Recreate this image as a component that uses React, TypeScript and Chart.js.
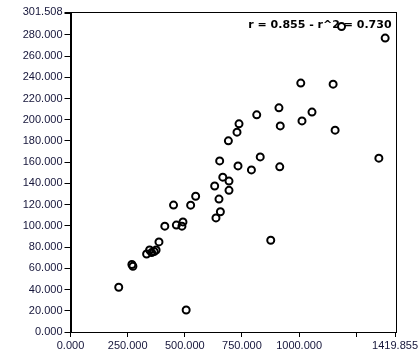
import React, { useEffect, useRef } from "react";
import { Chart, registerables } from "chart.js";

Chart.register(...registerables);

const xValues = [
  211, 268.5, 273, 333, 346, 355, 366, 374.5, 387, 412.6, 450.7, 463, 487.5, 492,
  506, 525.6, 547.5, 630.7, 649.6, 655.7, 636.4, 666.2, 693.4, 693.4, 652.6, 690.7,
  728.4, 737.2, 732.8, 791.5, 830, 814.7, 911.9, 917.6, 915.4, 1012.7, 1056.5,
  1007.4, 1148.9, 1157.6, 1185.7, 1376.6, 1349, 876,
];
const yValues = [
  42.2, 63.6, 61.9, 73.5, 77.3, 74.8, 75.9, 77.3, 84.9, 99.7, 119.6, 100.7, 99.7,
  103.7, 20.7, 119.5, 127.9, 137.6, 125.2, 113.3, 107.5, 145.9, 142.2, 133.5, 161.2,
  180.1, 188.3, 196.1, 156.5, 152.7, 165, 204.6, 211.2, 194.2, 155.6, 198.9, 207.2,
  234.5, 233.5, 190.2, 287.8, 276.9, 163.8, 86.5,
];
const xTicks = [0, 250, 500, 750, 1000, 1250, 1419.855];
const xHiddenLabels = [1250];
const yTicks = [0, 20, 40, 60, 80, 100, 120, 140, 160, 180, 200, 220, 240, 260, 280, 300, 301.508];
const yHiddenLabels = [300];
const xMax = 1419.855;
const yMax = 301.508;
const statsText = "r = 0.855 - r^2 = 0.730";

const labelColor = "#15153a";

export default function App() {
  const ref = useRef<HTMLCanvasElement | null>(null);

  useEffect(() => {
    document.body.style.margin = "0";
    const canvas = ref.current;
    if (!canvas) return;
    const points = xValues.map((x, i) => ({ x, y: yValues[i] }));

    const frame = {
      id: "frameAndText",
      afterDatasetsDraw(chart: any) {
        const { ctx, chartArea } = chart;
        ctx.save();
        ctx.strokeStyle = "#000";
        ctx.lineWidth = 1;
        ctx.strokeRect(
          Math.round(chartArea.left) + 0.5,
          Math.round(chartArea.top) + 0.5,
          Math.round(chartArea.right - chartArea.left),
          Math.round(chartArea.bottom - chartArea.top)
        );
        ctx.fillStyle = "#000";
        ctx.font = "bold 11px 'DejaVu Sans'";
        ctx.textAlign = "right";
        ctx.textBaseline = "alphabetic";
        ctx.fillText(statsText, chartArea.right - 3.5, chartArea.top + 15.5);
        ctx.restore();
      },
    };

    const chart = new Chart(canvas, {
      type: "scatter",
      data: {
        datasets: [
          {
            data: points,
            pointStyle: "circle",
            pointRadius: 3.5,
            pointBorderWidth: 2,
            borderColor: "#000",
            backgroundColor: "rgba(0,0,0,0)",
            pointBackgroundColor: "rgba(0,0,0,0)",
            pointBorderColor: "#000",
          },
        ],
      },
      options: {
        animation: false,
        responsive: false,
        maintainAspectRatio: false,
        layout: { padding: { left: 8, right: 24, top: 12, bottom: 0 } },
        plugins: {
          legend: { display: false },
          tooltip: { enabled: false },
        },
        scales: {
          x: {
            type: "linear",
            min: 0,
            max: xMax,
            afterBuildTicks: (scale: any) => {
              scale.ticks = xTicks.map((v) => ({ value: v }));
            },
            afterFit: (scale: any) => {
              scale.height = 28;
            },
            ticks: {
              autoSkip: false,
              maxRotation: 0,
              padding: 2,
              color: labelColor,
              font: { family: "'Liberation Sans'", size: 11 },
              callback: (v: any) =>
                xHiddenLabels.includes(Number(v)) ? "" : Number(v).toFixed(3),
            },
            grid: {
              drawOnChartArea: false,
              drawTicks: true,
              tickLength: 5,
              color: "#000",
            },
            border: { display: true, color: "#000", width: 1 },
          },
          y: {
            type: "linear",
            min: 0,
            max: yMax,
            afterBuildTicks: (scale: any) => {
              scale.ticks = yTicks.map((v) => ({ value: v }));
            },
            afterFit: (scale: any) => {
              scale.width = 62.5;
            },
            ticks: {
              autoSkip: false,
              padding: 2,
              color: labelColor,
              font: { family: "'Liberation Sans'", size: 11 },
              callback: (v: any) =>
                yHiddenLabels.includes(Number(v)) ? "" : Number(v).toFixed(3),
            },
            grid: {
              drawOnChartArea: false,
              drawTicks: true,
              tickLength: 6,
              color: "#000",
            },
            border: { display: true, color: "#000", width: 1 },
          },
        },
      },
      plugins: [frame],
    } as any);

    return () => chart.destroy();
  }, []);

  return (
    <div style={{ width: 420, height: 360, background: "#fff" }}>
      <canvas ref={ref} width={420} height={360} style={{ display: "block" }} />
    </div>
  );
}
